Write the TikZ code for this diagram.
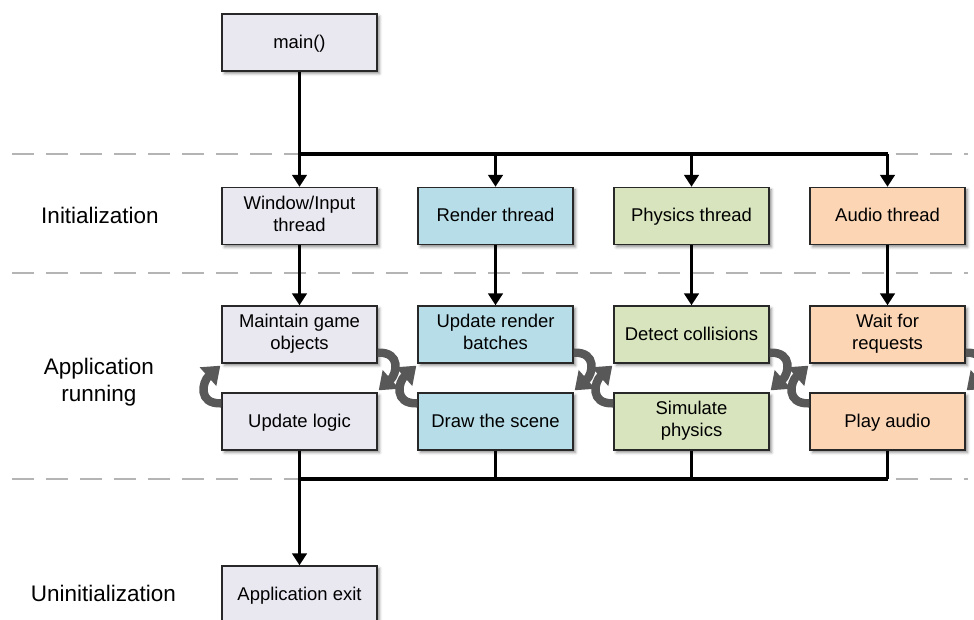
\documentclass[tikz,border=0pt]{standalone}
\usepackage{fontspec}
\setmainfont{Liberation Sans}
\usetikzlibrary{arrows.meta,calc,shadows.blur}

\definecolor{boxline}{RGB}{40,40,40}
\definecolor{fillmain}{RGB}{233,231,240}
\definecolor{fillrender}{RGB}{183,222,232}
\definecolor{fillphys}{RGB}{215,228,189}
\definecolor{fillaudio}{RGB}{252,213,181}
\definecolor{phaseline}{RGB}{180,180,180}
\definecolor{cyclegray}{RGB}{88,88,88}

% invisible rule that centres capitals in a box, whatever the descenders
\newcommand{\capstrut}{\rule[-0.28em]{0pt}{1.2em}}

\tikzset{
  stage/.style={draw=boxline, line width=0.8pt, minimum width=3.1cm, minimum height=1.14cm,
    inner sep=1pt, align=center, font=\fontsize{10.5}{12.5}\selectfont,
    execute at begin node=\capstrut, execute at end node=\capstrut,
    blur shadow={shadow xshift=1.4pt, shadow yshift=-1.4pt, shadow blur radius=1.6pt, shadow opacity=45}},
  mainbox/.style={stage, fill=fillmain},
  renderbox/.style={stage, fill=fillrender},
  physbox/.style={stage, fill=fillphys},
  audiobox/.style={stage, fill=fillaudio},
  phase/.style={align=center, font=\fontsize{12.8}{15.3}\selectfont},
  divider/.style={draw=phaseline, line width=0.85pt, dash pattern=on 0.44cm off 0.24cm},
  wire/.style={draw=black, line width=2.1pt},
  flow/.style={wire, -{Triangle[length=0.24cm, width=0.29cm]}},
  cycle/.style={draw=cyclegray, line width=4.8pt, -{Triangle[length=0.33cm, width=0.48cm]}},
}

\begin{document}
\begin{tikzpicture}[x=0.02cm, y=-0.02cm]
  \useasboundingbox (0,0) rectangle (974,619);
  \clip (0,0) rectangle (974,619);

  % phase dividers
  \draw[divider] (12,154) -- (968,154);
  \draw[divider] (12,273) -- (968,273);
  \draw[divider] (12,479) -- (968,479);

  % phase labels
  \node[phase] (lInit) at (100,215) {Initialization};
  \node[phase] (lRun) at (99,382) {Application\\running};
  \node[phase] (lUninit) at (103.5,593) {Uninitialization};

  % entry point
  \node[mainbox] (m) at (299.5,42.5) {main()};

  % thread start-up
  \node[mainbox]   (w1) at (299.5,216) {Window/Input\\thread};
  \node[renderbox] (w2) at (495.5,216) {Render thread};
  \node[physbox]   (w3) at (691.5,216) {Physics thread};
  \node[audiobox]  (w4) at (887.5,216) {Audio thread};

  % running loops, upper step
  \node[mainbox]   (a1) at (299.5,334.5) {Maintain game\\objects};
  \node[renderbox] (a2) at (495.5,334.5) {Update render\\batches};
  \node[physbox]   (a3) at (691.5,334.5) {Detect collisions};
  \node[audiobox]  (a4) at (887.5,334.5) {Wait for\\requests};

  % running loops, lower step
  \node[mainbox]   (b1) at (299.5,421.5) {Update logic};
  \node[renderbox] (b2) at (495.5,421.5) {Draw the scene};
  \node[physbox]   (b3) at (691.5,421.5) {Simulate\\physics};
  \node[audiobox]  (b4) at (887.5,421.5) {Play audio};

  % shutdown
  \node[mainbox] (ex) at (299.5,594.5) {Application exit};

  % fork bus
  \coordinate (j1) at (299.5,154);
  \coordinate (j2) at (495.5,154);
  \coordinate (j3) at (691.5,154);
  \coordinate (j4) at (887.5,154);
  \draw[flow] (m.south) -- (w1.north);
  \draw[wire] (j1) -- (j4);
  \draw[flow] (j2) -- (w2.north);
  \draw[flow] (j3) -- (w3.north);
  \draw[flow] (j4) -- (w4.north);

  % start-up into loops
  \draw[flow] (w1.south) -- (a1.north);
  \draw[flow] (w2.south) -- (a2.north);
  \draw[flow] (w3.south) -- (a3.north);
  \draw[flow] (w4.south) -- (a4.north);

  % join bus
  \coordinate (k2) at (495.5,479);
  \coordinate (k3) at (691.5,479);
  \coordinate (k4) at (887.5,479);
  \draw[wire] (b2.south) -- (k2);
  \draw[wire] (b3.south) -- (k3);
  \draw[wire] (b4.south) -- (k4);
  \draw[wire] (b1.south |- k2) -- (k4);
  \draw[flow] (b1.south) -- (ex.north);

  % loop cycle arrows
  \foreach \u/\l in {a1/b1, a2/b2, a3/b3, a4/b4} {
    \draw[cycle] ($(\l.north west)+(0,11)$)
      .. controls ($(\l.north west)+(-24,12)$) and ($(\u.south west)+(-19,18)$)
      .. ($(\u.south west)+(-1,2)$);
    \draw[cycle] ($(\u.south east)+(0,-11)$)
      .. controls ($(\u.south east)+(24,-12)$) and ($(\l.north east)+(19,-18)$)
      .. ($(\l.north east)+(1,-2)$);
  }
\end{tikzpicture}
\end{document}
